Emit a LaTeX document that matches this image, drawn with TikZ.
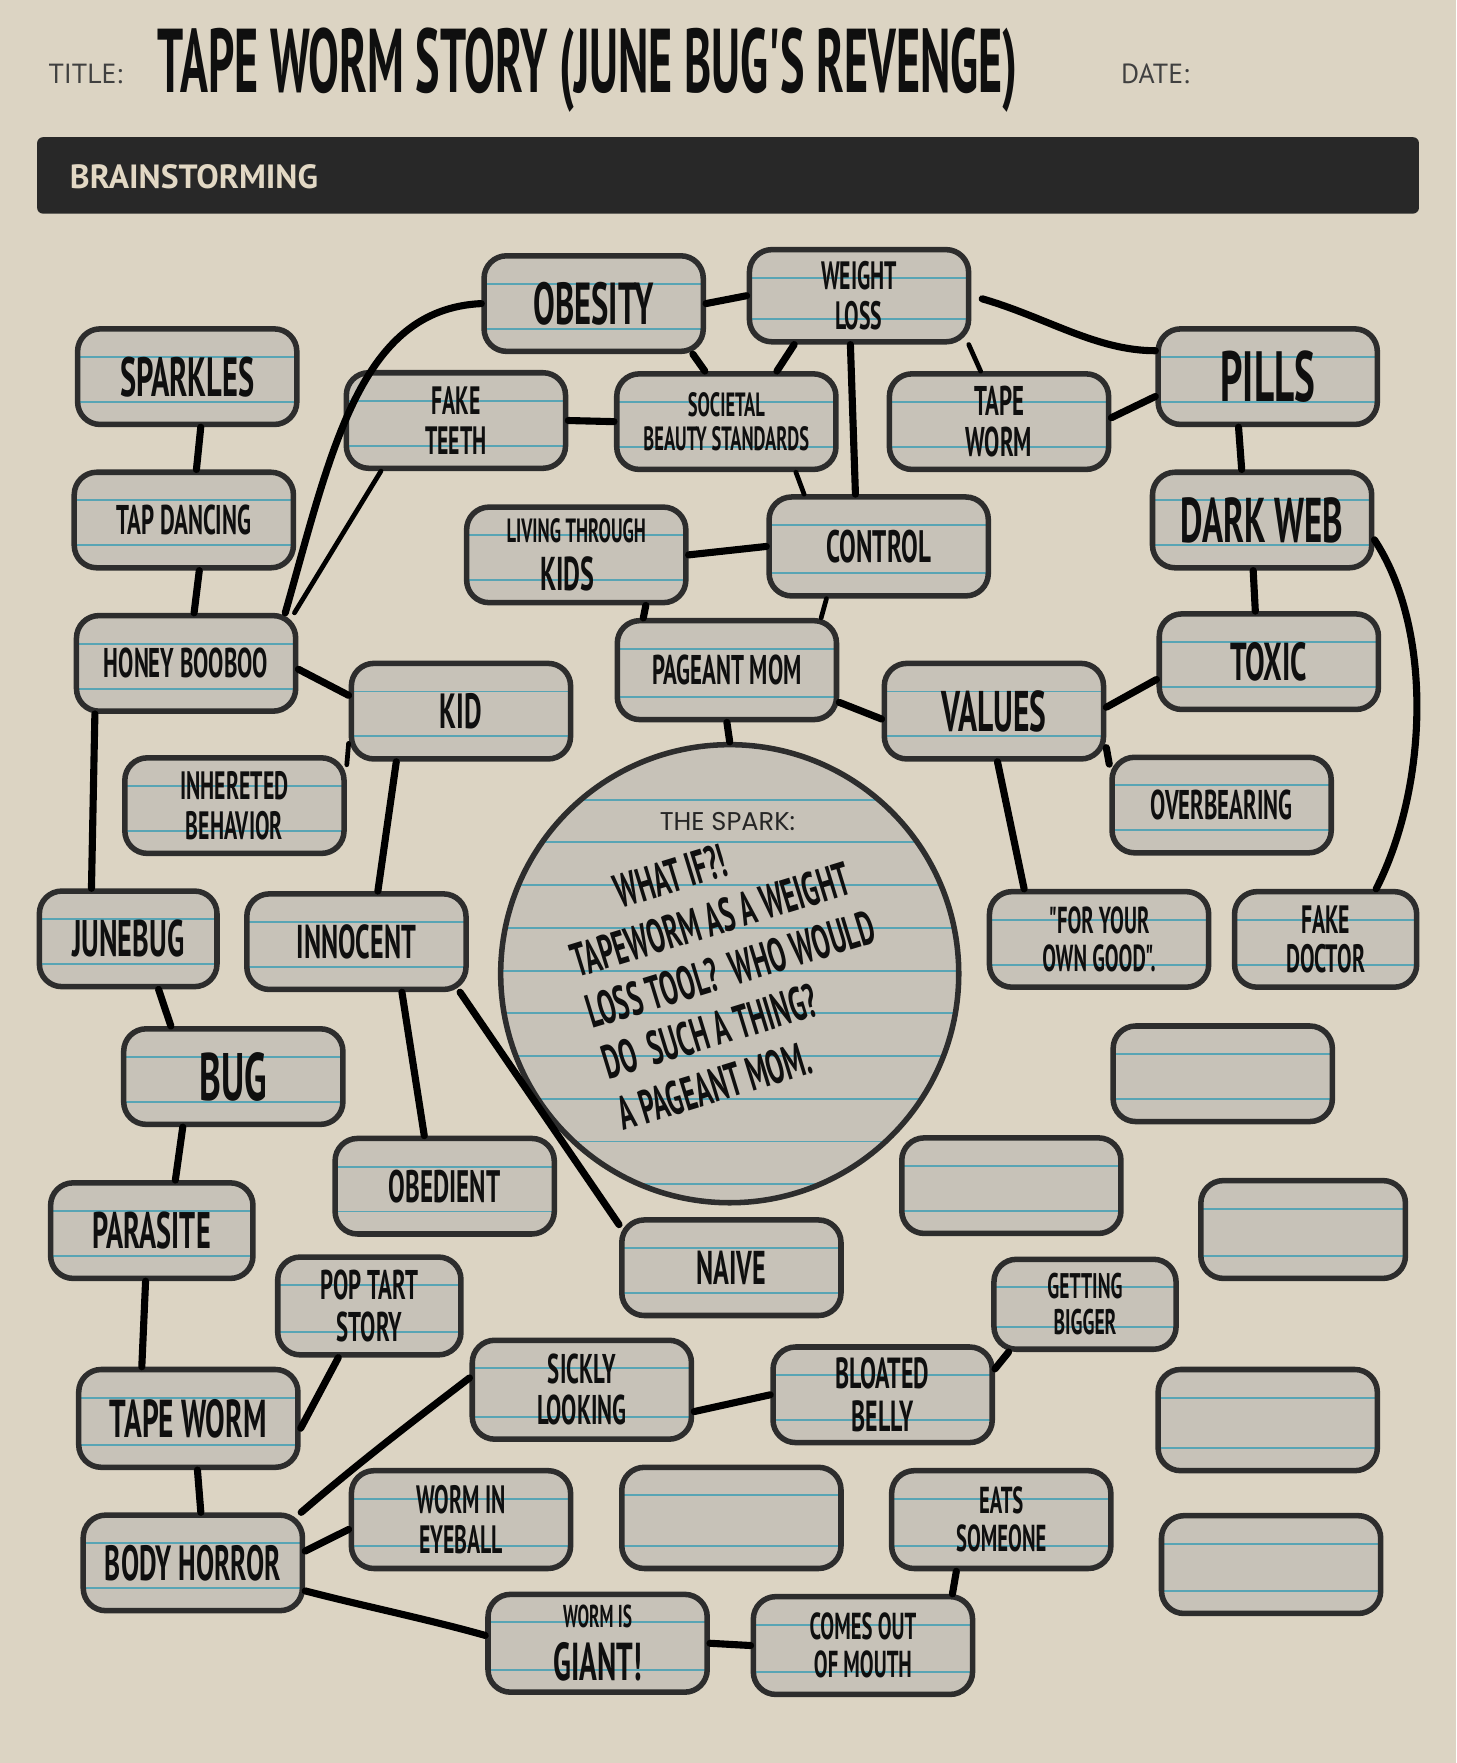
\documentclass[tikz,border=0pt]{standalone}
\usepackage{fontspec}
\setmainfont{PT Sans}
\newfontfamily\handfont{PT Sans}[FakeStretch=0.55]
\newfontfamily\labelfont{Poppins}

\tikzset{
  hand/.style 2 args={font=\handfont\bfseries\fontsize{#1}{#2}\selectfont},
  rule/.style={ruleblue, line width=1pt},
  card/.style={draw=cardline, line width=2.8pt, fill=cardfill, rounded corners=0.4cm,
    minimum width=3.9cm, minimum height=1.7cm, inner sep=2pt, align=center, text=ink,
    hand={20}{20},
    path picture={
      \draw[rule] ([yshift=-0.5cm]path picture bounding box.north west) -- ([yshift=-0.5cm]path picture bounding box.north east);
      \draw[rule] ([yshift=0.4cm]path picture bounding box.south west) -- ([yshift=0.4cm]path picture bounding box.south east);
    }},
  spark/.style={circle, draw=cardline, line width=2.8pt, fill=cardfill, minimum size=8.15cm,
    path picture={
      \foreach \k in {0.98,1.74,...,7.9}
        \draw[rule] ([yshift=-\k cm]path picture bounding box.north west) -- ([yshift=-\k cm]path picture bounding box.north east);
    }},
  link/.style={black, line width=3.6pt, line cap=round},
  thin link/.style={link, line width=2.4pt},
}

\begin{document}
\begin{tikzpicture}[x=0.02cm, y=-0.02cm]
\definecolor{paper}{RGB}{220,212,195}
\definecolor{cardfill}{RGB}{199,194,184}
\definecolor{cardline}{RGB}{45,45,45}
\definecolor{ruleblue}{RGB}{88,164,180}
\definecolor{ink}{RGB}{15,15,15}
\definecolor{barblack}{RGB}{40,40,40}
\definecolor{bartext}{RGB}{226,216,196}
\fill[paper] (0,0) rectangle (1295,1568);

% header
\node[anchor=west, font=\fontsize{14}{14}\selectfont, text=black!75] (titlelabel) at (37,66) {TITLE:};
\node[anchor=west, font=\fontsize{14}{14}\selectfont, text=black!75] (datelabel) at (991,66) {DATE:};
\node[anchor=west, hand={40}{40}, text=ink] (title) at (134,62) {\resizebox{15.3cm}{1.15cm}{TAPE WORM STORY (JUNE BUG'S REVENGE)}};
\fill[barblack, rounded corners=3pt] (33,122) rectangle (1262,190);
\node[anchor=west, font=\bfseries\fontsize{17}{17}\selectfont, text=bartext] (brainstorm) at (56,157) {BRAINSTORMING};

% cards
\node[card, hand={30}{30}] (obesity) at (528,270) {OBESITY};
\node[card, hand={20}{20}, minimum height=1.64cm] (weightloss) at (764,263) {WEIGHT\\LOSS};
\node[card, hand={36}{36}] (pills) at (1127.5,335) {PILLS};
\node[card, hand={28}{28}] (sparkles) at (166.5,335) {SPARKLES};
\node[card, hand={20}{20}] (faketeeth) at (405.5,374) {FAKE\\TEETH};
\node[card, hand={17}{17}] (societal) at (646,375) {SOCIETAL\\BEAUTY STANDARDS};
\node[card, hand={21}{21}] (tapewormA) at (888.5,375) {TAPE\\WORM};
\node[card, hand={21}{21}] (tapdancing) at (163.5,462.5) {TAP DANCING};
\node[card, hand={32}{32}] (darkweb) at (1122.5,462.5) {DARK WEB};
\node[card, hand={17}{24}, align=left] (livingkids) at (512.5,493.5) {LIVING THROUGH\\\hspace{0.6cm}{\fontsize{24}{24}\selectfont KIDS}};
\node[card, hand={23}{23}, minimum height=1.76cm] (control) at (781.5,486) {CONTROL};
\node[card, hand={21}{21}] (honey) at (165.5,590) {HONEY BOOBOO};
\node[card, hand={27}{27}] (toxic) at (1128.5,588.5) {TOXIC};
\node[card, hand={21}{21}, minimum height=1.76cm] (pageant) at (646.5,596) {PAGEANT MOM};
\node[card, hand={25}{25}] (kid) at (410,632.5) {KID};
\node[card, hand={29}{29}] (values) at (884,632.5) {VALUES};
\node[card, hand={20}{20}] (inherited) at (208.5,716.5) {INHERETED\\BEHAVIOR};
\node[card, hand={21}{21}] (overbearing) at (1086.5,716) {OVERBEARING};
\node[card, hand={26}{26}, minimum width=3.16cm] (junebug) at (114,835) {JUNEBUG};
\node[card, hand={24}{24}] (innocent) at (317,837.5) {INNOCENT};
\node[card, hand={19}{19}] (owngood) at (977.5,835.5) {"FOR YOUR\\OWN GOOD".};
\node[card, hand={20}{20}, minimum width=3.24cm] (fakedoctor) at (1179,835.5) {FAKE\\DOCTOR};
\node[card, hand={34}{34}] (bug) at (207.5,957.5) {BUG};
\node[card] (empty1) at (1087.5,955) {};
\node[card, hand={23}{23}] (obedient) at (395.5,1055) {OBEDIENT};
\node[card] (empty2) at (899.5,1054.5) {};
\node[card, hand={26}{26}, minimum width=3.6cm] (parasite) at (135,1094.5) {PARASITE};
\node[card, minimum width=3.64cm, minimum height=1.74cm] (empty3) at (1159,1093.5) {};
\node[card, hand={24}{24}] (naive) at (650.5,1127.5) {NAIVE};
\node[card, hand={21}{21}, minimum width=3.26cm, minimum height=1.74cm] (poptart) at (328.5,1161.5) {POP TART\\STORY};
\node[card, hand={18}{18}, minimum width=3.24cm, minimum height=1.6cm] (getting) at (965,1160) {GETTING\\BIGGER};
\node[card, hand={27}{27}, minimum height=1.74cm] (tapewormB) at (167.5,1261.5) {TAPE WORM};
\node[card, hand={21}{21}, minimum height=1.76cm] (sickly) at (517.5,1236) {SICKLY\\LOOKING};
\node[card, hand={22}{22}] (bloated) at (785,1240.5) {BLOATED\\BELLY};
\node[card, minimum height=1.8cm] (empty4) at (1127.5,1263) {};
\node[card, hand={25}{25}] (bodyhorror) at (171.5,1390) {BODY HORROR};
\node[card, hand={20}{20}, minimum height=1.74cm] (eyeball) at (410,1351.5) {WORM IN\\EYEBALL};
\node[card, minimum height=1.8cm] (empty5) at (650.5,1350) {};
\node[card, hand={19}{19}, minimum height=1.74cm] (eats) at (890.5,1351.5) {EATS\\SOMEONE};
\node[card, minimum height=1.74cm] (empty6) at (1130.5,1391.5) {};
\node[card, hand={16}{27}, minimum height=1.74cm] (giant) at (531.5,1461.5) {WORM IS\\{\fontsize{27}{27}\selectfont GIANT!}};
\node[card, hand={19}{19}, minimum height=1.74cm] (comesout) at (767.5,1463.5) {COMES OUT\\OF MOUTH};

% the spark
\node[spark] (spark) at (649,866) {};
\node[font=\labelfont\fontsize{13}{13}\selectfont, text=black!85] (sparktitle) at (647,731) {THE SPARK:};
\node[hand={24}{27}, text=ink, align=left, rotate=17] (sparktext) at (650,862)
  {\hspace{1.1cm}WHAT IF?!\\TAPEWORM AS A WEIGHT\\LOSS TOOL?\ \ WHO WOULD\\DO\ \ SUCH A THING?\\A PAGEANT MOM.};

% connectors
\draw[link] (obesity.east) -- (weightloss.west);
\draw[link] (obesity.west) .. controls (320,275) and (295,400) .. (honey.27);
\draw[thin link] (faketeeth.214) -- (honey.25);
\draw[link] (faketeeth.east) -- (societal.west);
\draw[link] (obesity.-27) -- (societal.113);
\draw[link] (weightloss.217) -- (societal.45);
\draw[link] (weightloss.260) -- (control.114);
\draw[thin link] (weightloss.-24) -- (tapewormA.110);
\draw[link, shorten <=0.2cm] (weightloss.east) .. controls (930,282) and (975,312) .. (pills.167);
\draw[link] (tapewormA.2) -- (pills.190);
\draw[link] (pills.240) -- (darkweb.112);
\draw[link] (darkweb.260) -- (toxic.105);
\draw[link] (darkweb.-10) .. controls (1275,560) and (1270,700) .. (fakedoctor.45);
\draw[thin link] (societal.-36) -- (control.145);
\draw[link] (livingkids.east) -- (control.west);
\draw[link] (livingkids.-36) -- (pageant.148);
\draw[thin link] (control.225) -- (pageant.29);
\draw[link] (pageant.-16) -- (values.184);
\draw[link] (pageant.south) -- (spark.north);
\draw[link] (toxic.189) -- (values.2);
\draw[link] (values.-18) -- (overbearing.160);
\draw[link] (values.-86) -- (owngood.146);
\draw[link] (sparkles.-75) -- (tapdancing.76);
\draw[link] (tapdancing.-73) -- (honey.81);
\draw[link] (honey.-3) -- (kid.172);
\draw[link] (honey.209) -- (junebug.126);
\draw[thin link] (kid.196) -- (inherited.20);
\draw[link] (kid.218) -- (innocent.67);
\draw[link] (junebug.-59) -- (bug.141);
\draw[link] (innocent.-48) -- (obedient.112);
\draw[link] (innocent.-26) -- (naive.159);
\draw[link] (bug.225) -- (parasite.65);
\draw[link] (parasite.263) -- (tapewormB.132);
\draw[link] (poptart.239) -- (tapewormB.-5);
\draw[link] (tapewormB.-80) -- (bodyhorror.81);
\draw[link] (bodyhorror.25) .. controls (320,1300) and (370,1262) .. (sickly.174);
\draw[link] (bodyhorror.6) -- (eyeball.185);
\draw[link] (bodyhorror.-14) .. controls (330,1430) and (380,1440) .. (giant.176);
\draw[link] (sickly.-11) -- (bloated.180);
\draw[link] (bloated.13) -- (getting.212);
\draw[link] (eats.229) -- (comesout.30);
\draw[link] (giant.east) -- (comesout.west);
\end{tikzpicture}
\end{document}
